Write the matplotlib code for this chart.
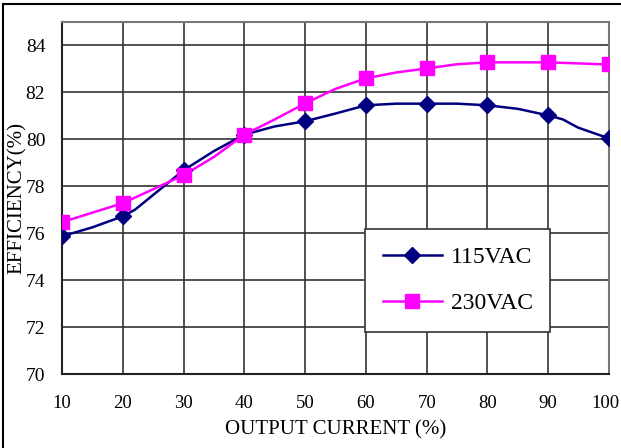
import matplotlib
matplotlib.use("Agg")
import matplotlib.pyplot as plt
import matplotlib.transforms as mtransforms
from matplotlib.patches import Rectangle

# marker points
current = [10, 20, 30, 40, 50, 60, 70, 80, 90, 100]
eff_115 = [75.87, 76.72, 78.68, 80.2, 80.77, 81.45, 81.52, 81.45, 81.02, 80.04]
eff_230 = [76.47, 77.28, 78.47, 80.2, 81.53, 82.6, 83.02, 83.28, 83.28, 83.19]

# line paths with the extra bends between markers
line_x_115 = [10, 15, 20, 22, 30, 35, 40, 45, 50, 55, 60, 65, 70, 75, 80, 85, 90, 92.4, 94.9, 100]
line_y_115 = [75.87, 76.25, 76.72, 77.0, 78.68, 79.5, 80.2, 80.55, 80.77, 81.1, 81.45, 81.52, 81.52, 81.52, 81.45, 81.3, 81.02, 80.85, 80.5, 80.04]
line_x_230 = [10, 20, 30, 35, 40, 45, 50, 55, 60, 65, 70, 75, 80, 90, 100]
line_y_230 = [76.47, 77.28, 78.47, 79.25, 80.2, 80.85, 81.53, 82.15, 82.6, 82.85, 83.02, 83.2, 83.28, 83.28, 83.19]

c115 = "#000080"
c230 = "#ff00ff"

plt.rcParams['font.family'] = ['Liberation Serif', 'DejaVu Serif']

fig = plt.figure(figsize=(6.21, 4.48), dpi=100)
ax = fig.add_axes([62 / 621, 1 - 374 / 448, (609 - 62) / 621, (374 - 22) / 448])

ax.plot(line_x_115, line_y_115, color=c115, lw=1.8, zorder=3)
ax.plot(current, eff_115, color=c115, lw=0, marker="D", ms=8, zorder=4)
ax.plot(line_x_230, line_y_230, color=c230, lw=1.8, zorder=3)
ax.plot(current, eff_230, color=c230, lw=0, marker="s", ms=10, zorder=4)

# legend proxies
h1, = ax.plot([], [], color=c115, lw=1.8, marker="D", ms=8)
h2, = ax.plot([], [], color=c230, lw=1.8, marker="s", ms=10)
leg = ax.legend([h1, h2], ["115VAC", "230VAC"], loc="lower left",
                bbox_to_anchor=((365 - 62) / 547, (374 - 332) / 352, (550 - 365) / 547, (332 - 232) / 352),
                mode="expand", fontsize=17, frameon=True, fancybox=False,
                edgecolor="#333333", framealpha=1, borderpad=0.75, labelspacing=1.05,
                handlelength=2.5, handletextpad=0.4, borderaxespad=0)
leg.get_frame().set_linewidth(1.2)

ax.set_xlim(10, 100)
ax.set_ylim(70, 85)
ax.set_xticks(range(10, 101, 10))
ax.set_yticks(range(70, 85, 2))
ax.grid(True, color="#333333", lw=1.2)
ax.tick_params(length=0, labelsize=14, pad=12)
ax.tick_params(axis="x", labelsize=13.5, pad=15)
for s in ax.spines.values():
    s.set_color("#777777")
    s.set_linewidth(1.5)
ax.spines["left"].set_color("#222222")
ax.spines["bottom"].set_color("#222222")

# nudge the "100" label so it stays inside the picture
last = ax.get_xticklabels()[-1]
last.set_transform(last.get_transform() + mtransforms.ScaledTranslation(-4 / 100, 0, fig.dpi_scale_trans))

ax.set_xlabel("OUTPUT CURRENT (%)", fontsize=15, labelpad=6)
ax.set_ylabel("EFFICIENCY(%)", fontsize=15)
ax.yaxis.set_label_coords(-0.064, 0.5)

# outer frame (right and bottom edges run past the picture)
fig.patches.append(Rectangle((3 / 621, -0.05), 1.0, 1.05 - 4 / 448, transform=fig.transFigure,
                             fill=False, edgecolor="black", lw=1.5))

fig.savefig("out.png", dpi=100)
